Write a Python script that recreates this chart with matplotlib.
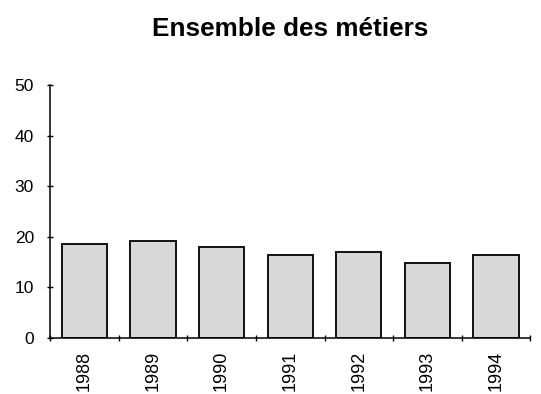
import matplotlib.pyplot as plt
import numpy as np

years = ["1988", "1989", "1990", "1991", "1992", "1993", "1994"]
values = [18.6, 19.2, 18.0, 16.5, 17.0, 14.8, 16.5]
y_ticks = [0, 10, 20, 30, 40, 50]


def main():
    plt.rcParams["font.family"] = ["Liberation Sans", "DejaVu Sans"]
    fig = plt.figure(figsize=(5.41, 3.94), dpi=100)
    ax = fig.add_axes([0.0924, 0.142, 0.888, 0.642])

    x = np.arange(len(years))
    ax.bar(x, values, width=0.66, color="#d8d8d8", edgecolor="#111111", linewidth=1.4)

    ax.set_xlim(-0.5, len(years) - 0.5)
    ax.set_ylim(0, 50)
    ax.set_yticks(y_ticks)
    ax.set_yticklabels([str(v) for v in y_ticks], fontsize=12.5)
    ax.set_xticks(x)
    ax.set_xticklabels(years, rotation=90, fontsize=13)
    ax.tick_params(axis="x", length=0, pad=9)
    ax.tick_params(axis="y", direction="inout", length=5, width=1, pad=9)

    # category boundary ticks on the bottom axis
    ax.set_xticks(np.arange(len(years) + 1) - 0.5, minor=True)
    ax.tick_params(axis="x", which="minor", direction="inout", length=4, width=1)

    for side in ("top", "right"):
        ax.spines[side].set_visible(False)
    ax.spines["left"].set_linewidth(1.1)
    ax.spines["bottom"].set_linewidth(1.1)

    fig.text(0.536, 0.926, "Ensemble des métiers", ha="center", va="center",
             fontsize=18.8, fontweight="bold")

    fig.savefig("out.png", dpi=100)


if __name__ == "__main__":
    main()
